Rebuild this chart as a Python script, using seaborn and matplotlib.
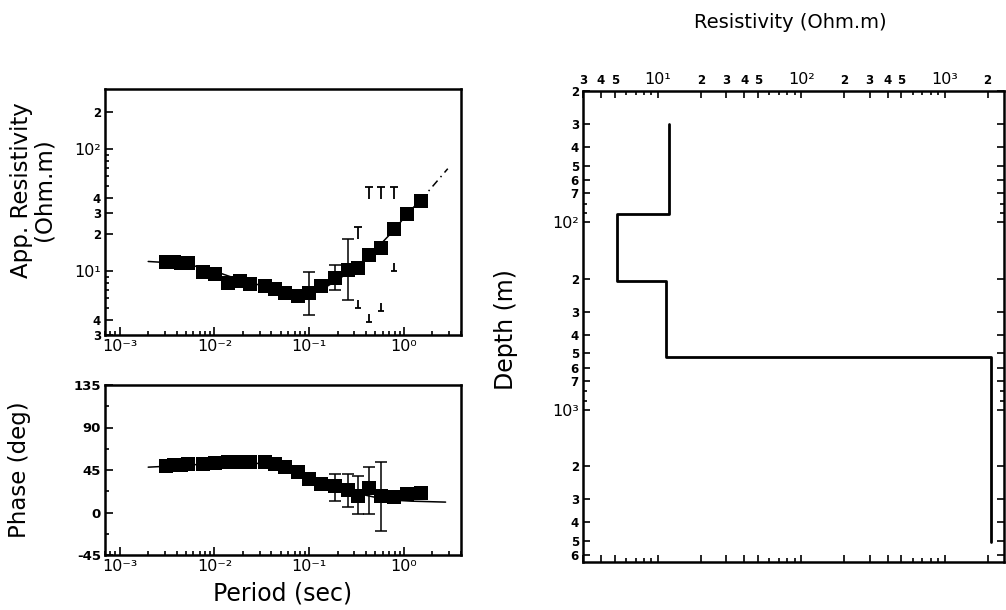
import matplotlib
matplotlib.use("Agg")
import matplotlib.pyplot as plt
import seaborn as sns
import pandas as pd
from matplotlib.path import Path
from matplotlib.ticker import FixedLocator, NullFormatter, LogLocator, MultipleLocator

# ---------------- data ----------------
period = [0.0031, 0.0037, 0.0044, 0.0052, 0.0076, 0.0101, 0.0139, 0.0185, 0.0236,
          0.0339, 0.0432, 0.055, 0.076, 0.1007, 0.134, 0.185, 0.255, 0.326, 0.432,
          0.573, 0.79, 1.09, 1.51]
app_res = [11.8, 11.8, 11.6, 11.6, 9.9, 9.5, 8.0, 8.3, 7.9,
           7.6, 7.15, 6.6, 6.2, 6.6, 7.5, 8.8, 10.2, 10.6, 13.6,
           15.4, 22.3, 29.6, 37.3]
phase = [49, 50, 50, 51, 51, 52, 54, 54, 53,
         53, 51, 48, 43, 36, 30.5, 28, 23.5, 18, 26,
         18, 16.3, 19.8, 20.8]

# error bars, apparent resistivity (full bars)
rho_err_T = [0.1007, 0.185, 0.255]
rho_err_lo = [4.4, 7.05, 5.85]
rho_err_hi = [9.9, 11.2, 18.5]
# error bars shown only as caps
rho_cap_T = [0.326, 0.432, 0.573, 0.79]
rho_cap_hi = [23.1, 49, 49, 49]
rho_cap_lo = [5.0, 3.8, 4.7, 10.0]

# error bars, phase
ph_err_T = [0.185, 0.255, 0.326, 0.432, 0.573]
ph_err_lo = [12.6, 5.9, -1.6, -1.6, -19.5]
ph_err_hi = [41, 41, 38.8, 48.4, 53.8]

# model response curves
model_T = [0.002, 0.005, 0.01, 0.02, 0.04, 0.07, 0.1, 0.15, 0.2, 0.3, 0.5, 0.8, 1.1, 1.5]
model_rho = [12.0, 11.5, 10.0, 8.3, 7.3, 6.6, 6.7, 7.4, 8.5, 10.5, 15.0, 22.0, 30.0, 38.0]
model_ext_T = [1.5, 2.9]
model_ext_rho = [38.0, 69.0]
model_ph_T = [0.002, 0.005, 0.01, 0.02, 0.04, 0.06, 0.1, 0.15, 0.2, 0.3, 0.5, 0.8, 1.2, 2.75]
model_ph = [48, 50, 52, 53, 51, 46, 37, 31, 27, 21, 16, 13, 12, 11]

# layered resistivity model
layer_rho = [12.0, 5.2, 11.3, 2100.0]
layer_top = [30.0, 91.0, 205.0, 525.0]
layer_bottom = [91.0, 205.0, 525.0, 5100.0]

# tick labels
per_ticks = [1e-3, 1e-2, 1e-1, 1.0]
per_labels = ["10⁻³", "10⁻²", "10⁻¹", "10⁰"]
rho_ticks = [3, 4, 10, 20, 30, 40, 100, 200]
rho_labels = ["3", "4", "10¹", "2", "3", "4", "10²", "2"]
ph_ticks = [-45, 0, 45, 90, 135]
ph_labels = ["-45", "0", "45", "90", "135"]
res_ticks = [3, 4, 5, 10, 20, 30, 40, 50, 100, 200, 300, 400, 500, 1000, 2000]
res_labels = ["3", "4", "5", "10¹", "2", "3", "4", "5", "10²", "2", "3", "4", "5", "10³", "2"]
dep_ticks = [20, 30, 40, 50, 60, 70, 100, 200, 300, 400, 500, 600, 700,
             1000, 2000, 3000, 4000, 5000, 6000]
dep_labels = ["2", "3", "4", "5", "6", "7", "10²", "2", "3", "4", "5", "6", "7",
              "10³", "2", "3", "4", "5", "6"]

# ---------------- style ----------------
sns.set_theme(style="ticks")
plt.rcParams["font.family"] = ["DejaVu Sans"]
plt.rcParams["axes.linewidth"] = 1.8

W, H = 1006, 610
fig = plt.figure(figsize=(W / 100, H / 100), dpi=100)
fig.patch.set_facecolor("white")


def rect(l, t, r, b):
    return [l / W, 1 - b / H, (r - l) / W, (b - t) / H]


ax1 = fig.add_axes(rect(105, 89, 461, 335))
ax2 = fig.add_axes(rect(105, 385, 461, 555))
ax3 = fig.add_axes(rect(583, 91, 1004, 562))

for ax in (ax1, ax2, ax3):
    ax.set_facecolor("white")
    for s in ax.spines.values():
        s.set_color("black")
        s.set_linewidth(1.8)


def style_labels(labels):
    for t in labels:
        if t.get_text().startswith("10"):
            t.set_fontsize(11.5)
            t.set_fontweight("normal")
        else:
            t.set_fontsize(8.5)
            t.set_fontweight("bold")


# T-shaped cap markers
cap_top = Path([(-1, 0), (1, 0), (0, 0), (0, -3)],
               [Path.MOVETO, Path.LINETO, Path.MOVETO, Path.LINETO])
cap_bot = Path([(-1, 0), (1, 0), (0, 0), (0, 3)],
               [Path.MOVETO, Path.LINETO, Path.MOVETO, Path.LINETO])

df = pd.DataFrame({"period": period, "rho": app_res, "phase": phase})

# ---------------- apparent resistivity ----------------
ax1.set_xscale("log")
ax1.set_yscale("log")
sns.lineplot(x=model_T, y=model_rho, ax=ax1, color="black", lw=1.1,
             sort=False, estimator=None)
sns.lineplot(x=model_ext_T, y=model_ext_rho, ax=ax1, color="black", lw=1.1,
             sort=False, estimator=None, linestyle=(0, (5, 3, 1, 3)))
ax1.errorbar(rho_err_T,
             [(lo * hi) ** 0.5 for lo, hi in zip(rho_err_lo, rho_err_hi)],
             yerr=[[(lo * hi) ** 0.5 - lo for lo, hi in zip(rho_err_lo, rho_err_hi)],
                   [hi - (lo * hi) ** 0.5 for lo, hi in zip(rho_err_lo, rho_err_hi)]],
             fmt="none", ecolor="black", elinewidth=1.1, capsize=4, capthick=1.1)
ax1.plot(rho_cap_T, rho_cap_hi, linestyle="none", marker=cap_top, markersize=17,
         markeredgewidth=1.3, color="black", markerfacecolor="none")
ax1.plot(rho_cap_T, rho_cap_lo, linestyle="none", marker=cap_bot, markersize=12,
         markeredgewidth=1.3, color="black", markerfacecolor="none")
sns.scatterplot(data=df, x="period", y="rho", ax=ax1, marker="s", s=100,
                color="black", edgecolor="black", linewidth=0, zorder=5)
ax1.set_xlim(7e-4, 4)
ax1.set_ylim(3, 310)
ax1.set_xticks(per_ticks, per_labels)
ax1.xaxis.set_minor_locator(LogLocator(base=10, subs=range(2, 10), numticks=20))
ax1.xaxis.set_minor_formatter(NullFormatter())
ax1.set_yticks(rho_ticks, rho_labels)
ax1.yaxis.set_minor_locator(FixedLocator([5, 6, 7, 8, 9, 50, 60, 70, 80, 90]))
ax1.yaxis.set_minor_formatter(NullFormatter())
ax1.set_xlabel("")
ax1.set_ylabel("")

# ---------------- phase ----------------
ax2.set_xscale("log")
sns.lineplot(x=model_ph_T, y=model_ph, ax=ax2, color="black", lw=1.1,
             sort=False, estimator=None)
ax2.errorbar(ph_err_T, [(lo + hi) / 2 for lo, hi in zip(ph_err_lo, ph_err_hi)],
             yerr=[(hi - lo) / 2 for lo, hi in zip(ph_err_lo, ph_err_hi)],
             fmt="none", ecolor="black", elinewidth=1.1, capsize=4, capthick=1.1)
sns.scatterplot(data=df, x="period", y="phase", ax=ax2, marker="s", s=100,
                color="black", edgecolor="black", linewidth=0, zorder=5)
ax2.set_xlim(7e-4, 4)
ax2.set_ylim(-45, 135)
ax2.set_xticks(per_ticks, per_labels)
ax2.xaxis.set_minor_locator(LogLocator(base=10, subs=range(2, 10), numticks=20))
ax2.xaxis.set_minor_formatter(NullFormatter())
ax2.set_yticks(ph_ticks, ph_labels)
ax2.yaxis.set_minor_locator(MultipleLocator(22.5))
ax2.set_xlabel("")
ax2.set_ylabel("")

for ax in (ax1, ax2):
    ax.tick_params(which="both", direction="in", top=False, right=False,
                   colors="black", width=1.2)
    ax.tick_params(which="major", length=6, pad=3)
    ax.tick_params(which="minor", length=3)
    for t in ax.get_xticklabels():
        t.set_fontsize(11.5)
        t.set_fontweight("normal")
    style_labels(ax.get_yticklabels())
for t in ax2.get_yticklabels():
    t.set_fontsize(9.5)
    t.set_fontweight("bold")

# ---------------- layered model ----------------
ax3.set_xscale("log")
ax3.set_yscale("log")
step_x, step_y = [], []
for r, t, b in zip(layer_rho, layer_top, layer_bottom):
    step_x += [r, r]
    step_y += [t, b]
sns.lineplot(x=step_x, y=step_y, ax=ax3, color="black", lw=2.0,
             sort=False, estimator=None)
ax3.set_xlim(3, 2600)
ax3.set_ylim(6500, 20)
ax3.set_xticks(res_ticks, res_labels)
ax3.xaxis.set_minor_locator(FixedLocator([6, 7, 8, 9, 60, 70, 80, 90, 600, 700, 800, 900]))
ax3.xaxis.set_minor_formatter(NullFormatter())
ax3.set_yticks(dep_ticks, dep_labels)
ax3.yaxis.set_minor_locator(FixedLocator([80, 90, 800, 900]))
ax3.yaxis.set_minor_formatter(NullFormatter())
ax3.tick_params(which="both", direction="in", top=True, labeltop=True,
                bottom=True, labelbottom=False, right=True, labelright=False,
                colors="black", width=1.2)
ax3.tick_params(which="major", length=5, pad=3)
ax3.tick_params(which="minor", length=3)
style_labels(ax3.get_xticklabels())
style_labels(ax3.get_yticklabels())
ax3.set_xlabel("")
ax3.set_ylabel("")

# ---------------- axis titles ----------------
fig.text(22 / W, 1 - 190 / H, "App. Resistivity", rotation=90, ha="center",
         va="center", fontsize=16.5, color="black")
fig.text(44 / W, 1 - 190 / H, "(Ohm.m)", rotation=90, ha="center",
         va="center", fontsize=16.5, color="black")
fig.text(20 / W, 1 - 470 / H, "Phase (deg)", rotation=90, ha="center",
         va="center", fontsize=16.5, color="black")
fig.text(283 / W, 1 - 594 / H, "Period (sec)", ha="center", va="center",
         fontsize=17, color="black")
fig.text(790 / W, 1 - 22 / H, "Resistivity (Ohm.m)", ha="center", va="center",
         fontsize=14, color="black")
fig.text(506 / W, 1 - 330 / H, "Depth (m)", rotation=90, ha="center", va="center",
         fontsize=17, color="black")

fig.savefig("out.png", dpi=100, facecolor="white")
